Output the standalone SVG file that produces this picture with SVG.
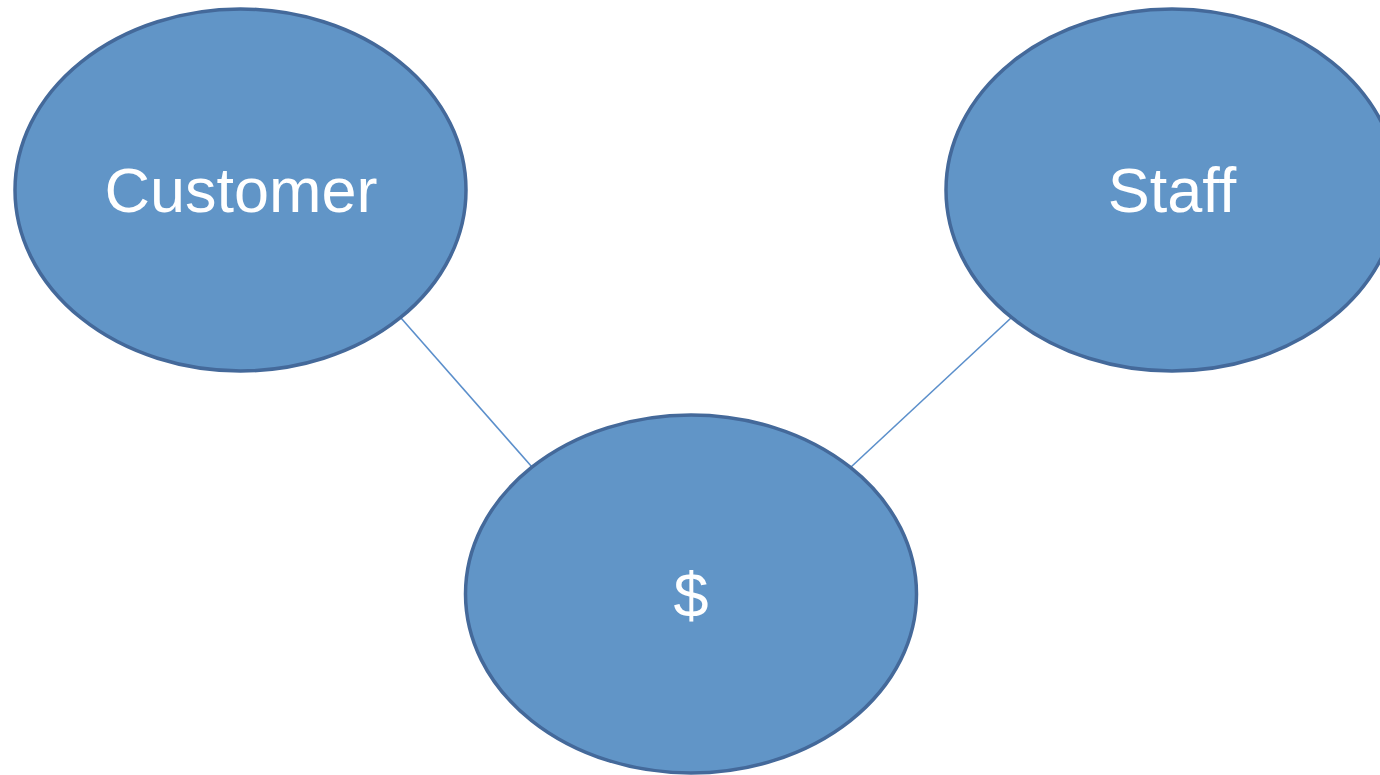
<svg xmlns="http://www.w3.org/2000/svg" width="1380" height="775" viewBox="0 0 1380 775">
<style>
.node{fill:#6195c7;stroke:#44699a;stroke-width:3.5}
.lbl{font-family:"Liberation Sans",Arial,sans-serif;font-size:63px;fill:#ffffff;text-anchor:middle}
.conn{stroke:#5b8fcb;stroke-width:1.6;fill:none}
</style>
<rect width="1380" height="775" fill="#ffffff"/>
<g id="connectors">
<line class="conn" x1="401" y1="318" x2="532" y2="467"/>
<line class="conn" x1="1011" y1="318" x2="851" y2="467"/>
</g>
<g id="customer">
<ellipse class="node" cx="240.5" cy="190" rx="225.5" ry="181"/>
<text class="lbl" x="241" y="212">Customer</text>
</g>
<g id="staff">
<ellipse class="node" cx="1172" cy="190" rx="226" ry="181"/>
<text class="lbl" x="1172" y="212">Staff</text>
</g>
<g id="money">
<ellipse class="node" cx="691" cy="594" rx="225.5" ry="179"/>
<text class="lbl" x="691" y="617">$</text>
</g>
</svg>
